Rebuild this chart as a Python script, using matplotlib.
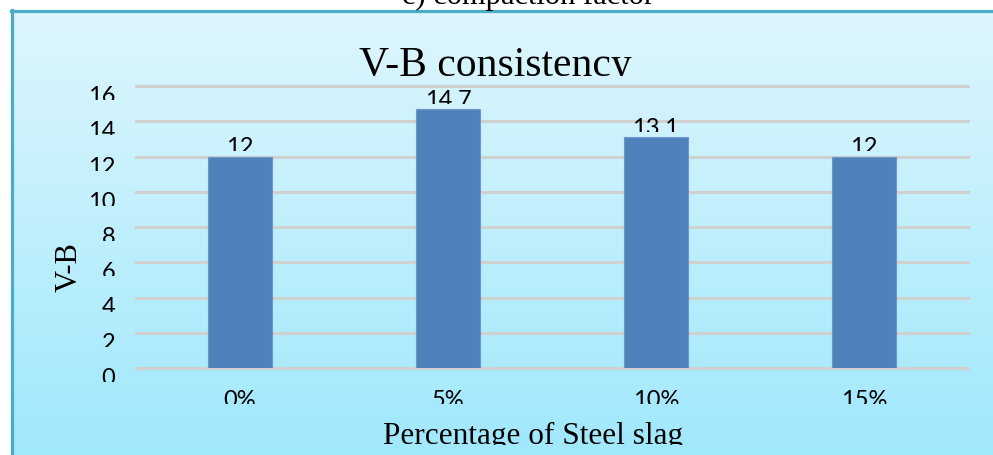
import matplotlib.pyplot as plt
import numpy as np
from matplotlib.lines import Line2D
from matplotlib.transforms import Bbox

categories = ['0%', '5%', '10%', '15%']
vb_values = [12, 14.7, 13.1, 12]
y_ticks = [0, 2, 4, 6, 8, 10, 12, 14, 16]

plt.rcParams['font.family'] = ['Lato', 'DejaVu Sans']
serif = 'Liberation Serif'

W, H = 993, 455
fig = plt.figure(figsize=(W / 100, H / 100), dpi=100)
fig.patch.set_facecolor('white')


def fx(px):
    return px / W


def fy(py):
    return 1 - py / H


# gradient panel behind the chart
bg = fig.add_axes([fx(11), 0, 1 - fx(11), fy(11)])
top = np.array([222, 246, 253]) / 255
bot = np.array([160, 232, 252]) / 255
g = np.linspace(0, 1, 256)[:, None, None]
bg.imshow(top + (bot - top) * g, aspect='auto', extent=[0, 1, 0, 1])
bg.set_axis_off()

# frame border
fig.add_artist(Line2D([fx(11.5), fx(11.5)], [0, fy(10)], transform=fig.transFigure,
                      color='#4BACC6', lw=2.3))
fig.add_artist(Line2D([fx(10.5), 1], [fy(10.5), fy(10.5)], transform=fig.transFigure,
                      color='#4BACC6', lw=2.3))

# caption of the previous figure, cut off at the top
fig.text(fx(528), fy(4), 'c) compaction factor', ha='center', va='baseline',
         family=serif, fontsize=22)

ax = fig.add_axes([fx(136), fy(368), fx(968) - fx(136), fy(86) - fy(368)])
ax.set_facecolor('none')
x = np.arange(len(categories))
ax.bar(x, vb_values, width=0.31, color='#4F81BD', edgecolor='#6C97CB',
       linewidth=0.8, zorder=3)
ax.set_xlim(-0.5, len(categories) - 0.5)
ax.set_ylim(0, 16)
ax.set_yticks(y_ticks)
ax.set_xticks(x, categories)
ax.yaxis.grid(True, color='#D0D0D0', lw=2.2)
ax.set_axisbelow(True)
for s in ax.spines.values():
    s.set_visible(False)
ax.tick_params(axis='y', length=0, labelsize=17, pad=15)
ax.tick_params(axis='x', length=0, labelsize=17, pad=16)
for lbl in ax.get_yticklabels():
    lbl.set_va('top')
for gl in ax.get_ygridlines():
    gl.set_clip_on(False)

value_labels = []
for xi, v in zip(x, vb_values):
    t = ax.annotate(f'{v:g}', (xi, v), xytext=(0, 1.5), textcoords='offset points',
                    ha='center', va='baseline', fontsize=17, annotation_clip=False)
    value_labels.append(t)

title = fig.text(fx(495), fy(76), 'V-B consistency', ha='center', va='baseline',
                 family=serif, fontsize=30)
xlab = fig.text(fx(533), fy(444), 'Percentage of Steel slag', ha='center',
                va='baseline', family=serif, fontsize=22.5)
fig.text(fx(69), fy(267), 'V-B', ha='center', va='center', rotation=90,
         family=serif, fontsize=22)

# the source image has the bottoms of most texts cut off
fig.canvas.draw()
renderer = fig.canvas.get_renderer()


def cut_bottom(t, cut_px):
    bb = t.get_window_extent(renderer)
    _, _, d = renderer.get_text_width_height_descent('lp', t.get_fontproperties(),
                                                     ismath=False)
    base = bb.y0 + d
    t.set_clip_box(Bbox([[bb.x0 - 10, base + cut_px], [bb.x1 + 10, bb.y1 + 10]]))
    t.set_clip_on(True)


for t in ax.get_yticklabels() + ax.get_xticklabels() + value_labels:
    cut_bottom(t, 3)
cut_bottom(title, 0)
cut_bottom(xlab, -1)

fig.savefig('out.png', dpi=100)
